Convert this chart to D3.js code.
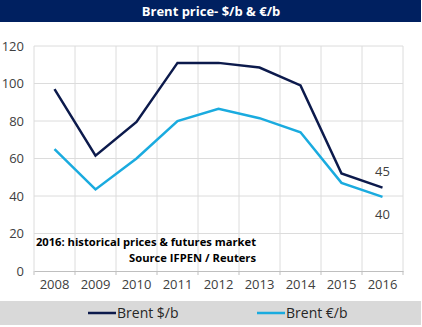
<!DOCTYPE html>
<html>
<head>
<meta charset="utf-8">
<script src="https://cdn.jsdelivr.net/npm/d3@7"></script>
<style>
  body { margin: 0; background: #fff; }
  svg { display: block; font-family: "Open Sans", sans-serif; }
</style>
</head>
<body>
<svg id="chart" width="422" height="327"></svg>
<script>
const years = ["2008", "2009", "2010", "2011", "2012", "2013", "2014", "2015", "2016"];
const brentUsd = [97, 61.5, 79.5, 111, 111, 108.5, 99, 52, 44.5];
const brentEur = [65, 43.5, 60, 80, 86.5, 81.5, 74, 47, 39.5];
const yTicks = [0, 20, 40, 60, 80, 100, 120];

const margin = {top: 46, right: 19, bottom: 56, left: 34};
const width = 422 - margin.left - margin.right;
const height = 327 - margin.top - margin.bottom;

const svg = d3.select("#chart");

// title bar
svg.append("rect")
    .attr("x", 0).attr("y", 0)
    .attr("width", 421).attr("height", 22)
    .attr("fill", "#002060");
svg.append("text")
    .attr("x", 211).attr("y", 16)
    .attr("text-anchor", "middle")
    .attr("fill", "#fff")
    .style("font-size", "13px")
    .style("font-weight", "700")
    .text("Brent price- $/b & €/b");

const g = svg.append("g")
    .attr("transform", `translate(${margin.left},${margin.top})`);

const x = d3.scaleBand().domain(years).range([0, width]);
const y = d3.scaleLinear().domain([0, 120]).range([height, 0]);

// gridlines
g.append("g")
    .selectAll("line")
    .data(yTicks.slice(1))
    .join("line")
    .attr("x1", 0).attr("x2", width)
    .attr("y1", d => y(d)).attr("y2", d => y(d))
    .attr("stroke", "#dcdcdc");
g.append("g")
    .selectAll("line")
    .data(years.map((d, i) => i).concat([years.length]))
    .join("line")
    .attr("x1", i => i * x.bandwidth()).attr("x2", i => i * x.bandwidth())
    .attr("y1", 0).attr("y2", height)
    .attr("stroke", "#dcdcdc");

// y axis labels
g.append("g")
    .call(d3.axisLeft(y).tickValues(yTicks).tickSize(0).tickPadding(10))
    .call(s => s.select(".domain").remove())
    .selectAll("text")
    .attr("fill", "#404040")
    .style("font-size", "13px")
    .style("font-family", "Open Sans, sans-serif");

// x axis
const xAxis = g.append("g")
    .attr("transform", `translate(0,${height})`)
    .call(d3.axisBottom(x).tickSize(0).tickPadding(9));
xAxis.select(".domain").attr("stroke", "#bfbfbf");
xAxis.selectAll("text")
    .attr("fill", "#404040")
    .style("font-size", "13px")
    .style("font-family", "Open Sans, sans-serif");
xAxis.append("g")
    .selectAll("line")
    .data(years.map((d, i) => i).concat([years.length]))
    .join("line")
    .attr("x1", i => i * x.bandwidth()).attr("x2", i => i * x.bandwidth())
    .attr("y1", 0).attr("y2", 4)
    .attr("stroke", "#bfbfbf");

const line = d3.line()
    .x((d, i) => x(years[i]) + x.bandwidth() / 2)
    .y(d => y(d));

g.append("path")
    .datum(brentUsd)
    .attr("d", line)
    .attr("fill", "none")
    .attr("stroke", "#0c1a4c")
    .attr("stroke-width", 2.5);
g.append("path")
    .datum(brentEur)
    .attr("d", line)
    .attr("fill", "none")
    .attr("stroke", "#1aabdf")
    .attr("stroke-width", 2.5);

// last point labels
const lastX = x(years[years.length - 1]) + x.bandwidth() / 2;
g.append("text")
    .attr("x", lastX).attr("y", y(brentUsd[brentUsd.length - 1]) - 12)
    .attr("text-anchor", "middle")
    .attr("fill", "#404040")
    .style("font-size", "13px")
    .text(Math.round(brentUsd[brentUsd.length - 1]));
g.append("text")
    .attr("x", lastX).attr("y", y(brentEur[brentEur.length - 1]) + 22)
    .attr("text-anchor", "middle")
    .attr("fill", "#404040")
    .style("font-size", "13px")
    .text(Math.round(brentEur[brentEur.length - 1]));

// annotation
g.append("text")
    .attr("x", 222).attr("y", y(20) + 12)
    .attr("text-anchor", "end")
    .style("font-size", "11.2px")
    .style("font-weight", "700")
    .text("2016: historical prices & futures market");
g.append("text")
    .attr("x", 222).attr("y", y(20) + 28)
    .attr("text-anchor", "end")
    .style("font-size", "11.2px")
    .style("font-weight", "700")
    .text("Source IFPEN / Reuters");

// legend
const legend = svg.append("g");
legend.append("rect")
    .attr("x", 0).attr("y", 301)
    .attr("width", 421).attr("height", 24)
    .attr("fill", "#d9d9d9");
const items = [
    {name: "Brent $/b", color: "#0c1a4c", x: 88},
    {name: "Brent €/b", color: "#1aabdf", x: 257}
];
items.forEach(it => {
    legend.append("line")
        .attr("x1", it.x).attr("x2", it.x + 28)
        .attr("y1", 313).attr("y2", 313)
        .attr("stroke", it.color)
        .attr("stroke-width", 2.5);
    legend.append("text")
        .attr("x", it.x + 29).attr("y", 318)
        .attr("fill", "#262626")
        .style("font-size", "14px")
        .text(it.name);
});
</script>
</body>
</html>
